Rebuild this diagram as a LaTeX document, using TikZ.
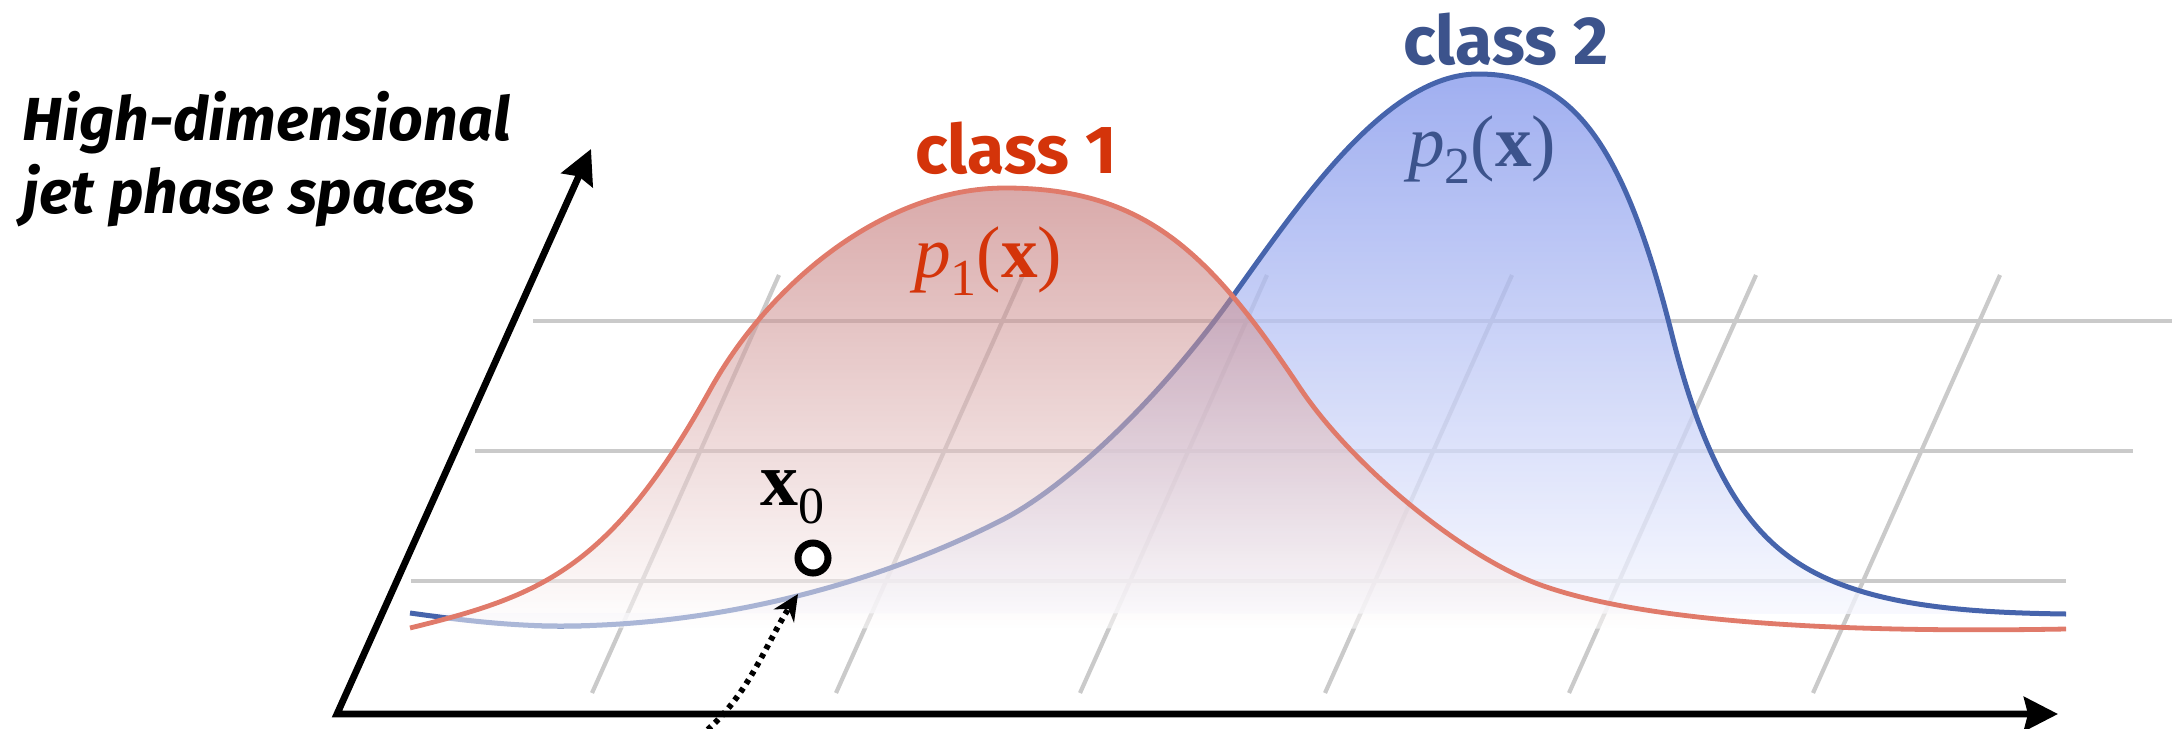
\documentclass[tikz,border=0pt]{standalone}
\usepackage{fontspec}
\newfontfamily\lab{Fira Sans}
\newfontfamily\tms{Liberation Serif}
\usetikzlibrary{arrows.meta}
\definecolor{redline}{RGB}{224,122,106}
\definecolor{blueline}{RGB}{70,100,172}
\definecolor{redtxt}{RGB}{212,52,10}
\definecolor{bluetxt}{RGB}{60,83,140}
\definecolor{gridc}{RGB}{202,202,202}
\definecolor{redtop}{RGB}{186,100,100}
\definecolor{bluetop}{RGB}{128,148,235}
\definecolor{bluebot}{RGB}{248,249,255}
\tikzset{
  gridline/.style={draw=gridc, line width=1.05pt},
  curvered/.style={draw=redline, line width=1.2pt},
  curveblue/.style={draw=blueline, line width=1.25pt},
  axisline/.style={draw=black, line width=1.7pt, line join=miter,
    {Stealth[length=8.5pt,width=8.5pt,inset=1pt]}-{Stealth[length=8.5pt,width=8.5pt,inset=1pt]}},
  dotarrow/.style={draw=black, line width=1.45pt, dash pattern=on 1.2pt off 1.3pt,
    -{Stealth[length=6.5pt,width=6pt]}},
  headtxt/.style={font=\lab\bfseries\itshape\fontsize{15.2}{17}\selectfont, anchor=base west, inner sep=0pt},
  classtxt/.style={font=\lab\bfseries\fontsize{17}{20}\selectfont, anchor=base, inner sep=0pt},
  mathtxt/.style={font=\tms\fontsize{18.3}{20}\selectfont, anchor=base, inner sep=0pt},
}
\newcommand{\pofx}[1]{{\itshape p}\raisebox{-4.5pt}{\fontsize{13}{14}\selectfont #1}({\bfseries x})}
\begin{document}
\begin{tikzpicture}[x=0.25pt,y=-0.25pt]
\useasboundingbox (0,0) rectangle (2172,728);

% grid
\foreach \b in {592,836,1080,1325,1569,1813}
  \draw[gridline] (\b,693) -- ++(187,-418);
\draw[gridline] (533,321) -- (2172,321);
\draw[gridline] (475,451) -- (2133,451);
\draw[gridline] (411,581) -- (2066,581);

% class 2 density
\shade[top color=bluetop, bottom color=bluebot, fill opacity=0.75]
  (410,613) .. controls (460,620) and (510,626) .. (560,626)
  .. controls (700,626) and (860,592) .. (1000,521)
  .. controls (1062,490) and (1155,405) .. (1233,296)
  .. controls (1303,198) and (1388,74) .. (1478,74)
  .. controls (1568,74) and (1622,135) .. (1672,335)
  .. controls (1717,515) and (1777,564.4) .. (1857,590)
  .. controls (1917,609) and (1990,613) .. (2066,614) -- cycle;
\draw[curveblue]
  (410,613) .. controls (460,620) and (510,626) .. (560,626)
  .. controls (700,626) and (860,592) .. (1000,521)
  .. controls (1062,490) and (1155,405) .. (1233,296)
  .. controls (1303,198) and (1388,74) .. (1478,74)
  .. controls (1568,74) and (1622,135) .. (1672,335)
  .. controls (1717,515) and (1777,564.4) .. (1857,590)
  .. controls (1917,609) and (1990,613) .. (2066,614);

% class 1 density
\shade[top color=redtop, bottom color=white, fill opacity=0.55]
  (410,628) .. controls (540,596) and (610,570) .. (710,390)
  .. controls (770,282) and (885,188) .. (1005,188)
  .. controls (1145,188) and (1210,253) .. (1300,388)
  .. controls (1350,463) and (1458,554) .. (1538,584)
  .. controls (1660,629) and (1900,632) .. (2066,629) -- cycle;
\draw[curvered]
  (410,628) .. controls (540,596) and (610,570) .. (710,390)
  .. controls (770,282) and (885,188) .. (1005,188)
  .. controls (1145,188) and (1210,253) .. (1300,388)
  .. controls (1350,463) and (1458,554) .. (1538,584)
  .. controls (1660,629) and (1900,632) .. (2066,629);

% axes
\coordinate (origin) at (337,714);
\coordinate (ytip) at (591,149);
\coordinate (xtip) at (2058,714);
\draw[axisline] (ytip) -- (origin) -- (xtip);

% x0 point
\node[circle, draw=black, fill=white, line width=1.75pt, minimum size=7.5pt, inner sep=0pt] (xzero) at (813,558) {};
\node[font=\tms\fontsize{19}{20}\selectfont, anchor=base, inner sep=0pt] (xzerolab) at (792,505)
  {{\bfseries x}\raisebox{-4.5pt}{\fontsize{13}{14}\selectfont 0}};

% dotted arrow to the curve
\coordinate (arrS) at (700,736);
\coordinate (arrE) at (798,594);
\draw[dotarrow] (arrS) .. controls (748,698) and (765,645) .. (arrE);

% labels
\node[headtxt] (head1) at (22,140) {High-dimensional};
\node[headtxt] (head2) at (22,213) {jet phase spaces};
\node[classtxt, text=redtxt] (cls1) at (1016,173) {class 1};
\node[classtxt, text=bluetxt] (cls2) at (1506,65) {class 2};
\node[mathtxt, text=redtxt] (p1) at (988,277) {\pofx{1}};
\node[mathtxt, text=bluetxt] (p2) at (1482,166) {\pofx{2}};
\end{tikzpicture}
\end{document}
